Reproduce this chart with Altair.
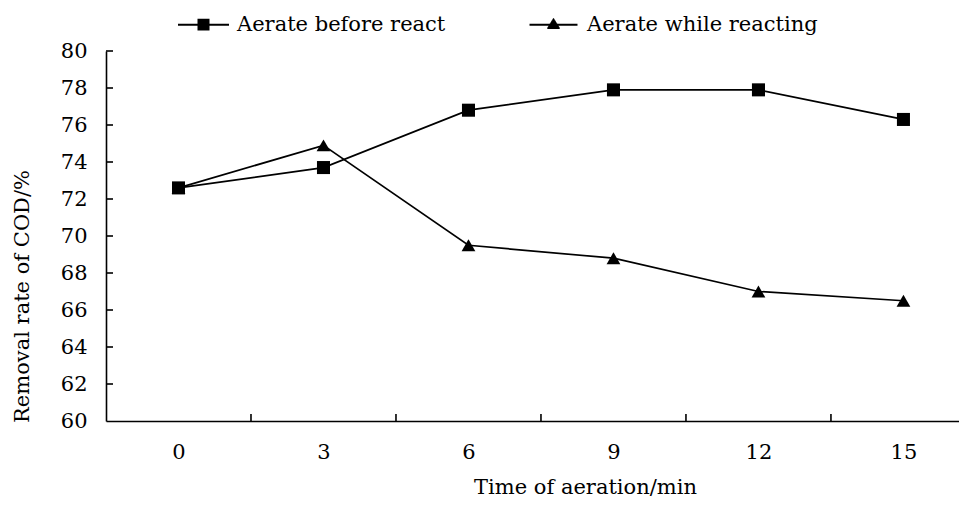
import altair as alt
import pandas as pd

# ---- data ----
times = [0, 3, 6, 9, 12, 15]
before_react = [72.6, 73.7, 76.8, 77.9, 77.9, 76.3]
while_reacting = [72.6, 74.9, 69.5, 68.8, 67.0, 66.5]
series_names = ["Aerate before react", "Aerate while reacting"]
x_boundary_ticks = [1.5, 4.5, 7.5, 10.5, 13.5]
y_tick_values = [60, 62, 64, 66, 68, 70, 72, 74, 76, 78, 80]

df = pd.DataFrame({
    "time": times * 2,
    "rate": before_react + while_reacting,
    "series": [series_names[0]] * len(times) + [series_names[1]] * len(times),
})

FONT = "DejaVu Serif"
FS = 21
W, H = 853, 370
XMIN = -1.5
XMAX = XMIN + W / 48.33
YMIN, YMAX = 60, 80
px_per_x = W / (XMAX - XMIN)
px_per_y = H / (YMAX - YMIN)
TICK_PX = 7

xt = pd.DataFrame({"x": x_boundary_ticks})
xt["y0"] = YMIN
xt["y1"] = YMIN + TICK_PX / px_per_y
yt = pd.DataFrame({"y": y_tick_values[1:]})
yt["x0"] = XMIN
yt["x1"] = XMIN + TICK_PX / px_per_x

xscale = alt.Scale(domain=[XMIN, XMAX], nice=False, zero=False)
yscale = alt.Scale(domain=[YMIN, YMAX], nice=False, zero=False)

x_axis = alt.Axis(
    values=times, ticks=False, grid=False, format="d",
    domainColor="black", domainWidth=1.6,
    labelFont=FONT, labelFontSize=FS, labelColor="black",
    labelPadding=31, labelBaseline="middle", labelFlush=False, labelOverlap=False,
    title="Time of aeration/min", titleFont=FONT, titleFontSize=FS,
    titleFontWeight="normal", titleColor="black",
    titleX=479, titleY=66, titleBaseline="middle", titleAlign="center",
)
y_axis = alt.Axis(
    values=y_tick_values, ticks=False, grid=False, format="d",
    domainColor="black", domainWidth=1.6,
    labelFont=FONT, labelFontSize=FS, labelColor="black",
    labelPadding=19, labelAlign="right", labelBaseline="middle",
    labelFlush=False, labelOverlap=False,
    title="Removal rate of COD/%", titleFont=FONT, titleFontSize=FS,
    titleFontWeight="normal", titleColor="black", titleAngle=270,
    titleX=-84, titleY=245, titleBaseline="middle", titleAlign="center",
)


def X(field):
    return alt.X(field, scale=xscale, axis=x_axis)


def Y(field):
    return alt.Y(field, scale=yscale, axis=y_axis)


base = alt.Chart(df)

lines = base.mark_line(color="black", strokeWidth=1.7).encode(
    x=X("time:Q"), y=Y("rate:Q"), detail="series:N",
)

pts_before = base.transform_filter(
    alt.datum.series == series_names[0]
).mark_point(filled=True, color="black", opacity=1, shape="square", size=170).encode(
    x=X("time:Q"), y=Y("rate:Q"),
)
pts_while = base.transform_filter(
    alt.datum.series == series_names[1]
).mark_point(filled=True, color="black", opacity=1, shape="triangle-up", size=190).encode(
    x=X("time:Q"), y=Y("rate:Q"),
)

# legend symbol = line with a marker, drawn with strokes only (hatched marker)
SYM_PX = 51.0
R = SYM_PX / 2


def hatched(half_width_fn, y_from, y_to, step, line_half=R):
    parts = [f"M{-line_half / R:.3f},0H{line_half / R:.3f}"]
    y = y_from
    while y <= y_to + 1e-9:
        hw = half_width_fn(y)
        if hw > 0:
            parts.append(f"M{-hw / R:.4f},{y / R:.4f}H{hw / R:.4f}")
        y += step
    return "".join(parts)


square_path = hatched(lambda y: 6.0, -5.1, 5.1, 1.0)
tri_path = hatched(lambda y: 7.2 * (y + 6.6) / 11.6, -5.6, 4.1, 1.0, line_half=24.0)
legend_paths = [square_path, tri_path]

legend_layer = base.mark_point(filled=False, color="black", opacity=0, size=SYM_PX ** 2, strokeWidth=1.8).encode(
    x=X("time:Q"), y=Y("rate:Q"),
    shape=alt.Shape(
        "series:N",
        scale=alt.Scale(domain=series_names, range=legend_paths),
        legend=alt.Legend(
            orient="none", legendX=71, legendY=-53, direction="horizontal",
            title=None, padding=0, offset=0,
            symbolSize=SYM_PX ** 2, symbolStrokeWidth=1.8,
            symbolStrokeColor="black", symbolOpacity=1,
            labelFont=FONT, labelFontSize=FS, labelColor="black",
            labelOffset=7, columnPadding=79, labelLimit=0,
        ),
    ),
)

x_ticks = alt.Chart(xt).mark_rule(color="black", strokeWidth=1.6).encode(
    x=X("x:Q"), y=Y("y0:Q"), y2="y1:Q",
)
y_ticks = alt.Chart(yt).mark_rule(color="black", strokeWidth=1.6).encode(
    y=Y("y:Q"), x=X("x0:Q"), x2="x1:Q",
)

chart = (
    alt.layer(lines, pts_before, pts_while, legend_layer, x_ticks, y_ticks)
    .properties(
        width=W, height=H, autosize="none",
        padding={"left": 98, "top": 43, "right": 0, "bottom": 77},
        background="white",
    )
    .configure_view(stroke=None)
)

chart.save("out.html", embed_options={"renderer": "svg", "actions": False})
